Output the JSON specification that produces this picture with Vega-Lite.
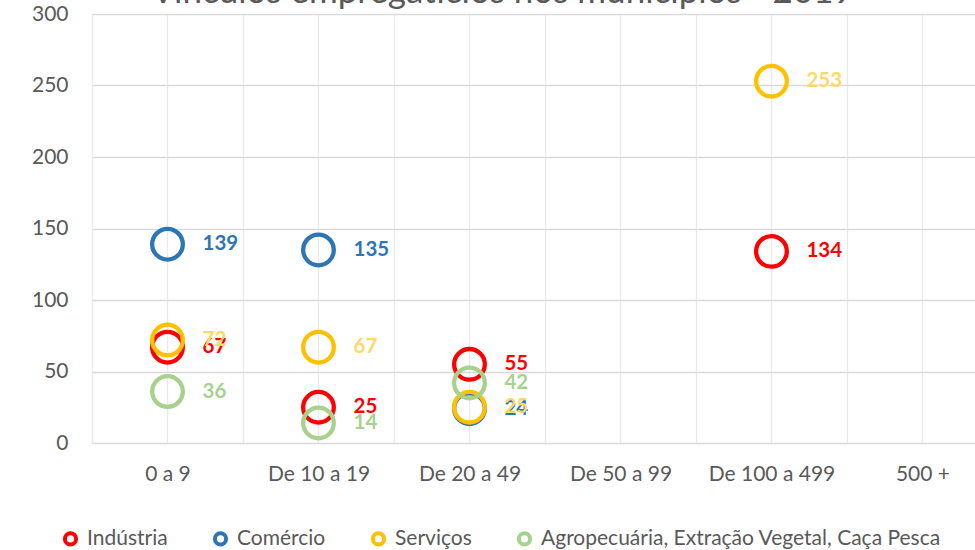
{
  "$schema": "https://vega.github.io/schema/vega-lite/v6.json",
  "autosize": {"type": "none"},
  "padding": {"left": 92, "top": 14, "right": 0, "bottom": 107},
  "width": 883,
  "height": 429,
  "background": "white",
  "config": {"font": "Lato", "view": {"stroke": null}},
  "title": {
    "text": "Vínculos empregatícios nos municípios - 2019",
    "fontSize": 35,
    "fontWeight": "normal",
    "color": "#595959",
    "baseline": "alphabetic",
    "offset": -35,
    "dx": -31
  },
  "data": {
    "values": [
      {"faixa": "0 a 9", "ordem": 1, "setor": "Indústria", "valor": 67},
      {"faixa": "De 10 a 19", "ordem": 2, "setor": "Indústria", "valor": 25},
      {"faixa": "De 20 a 49", "ordem": 3, "setor": "Indústria", "valor": 55},
      {"faixa": "De 100 a 499", "ordem": 5, "setor": "Indústria", "valor": 134},
      {"faixa": "0 a 9", "ordem": 1, "setor": "Comércio", "valor": 139},
      {"faixa": "De 10 a 19", "ordem": 2, "setor": "Comércio", "valor": 135},
      {"faixa": "De 20 a 49", "ordem": 3, "setor": "Comércio", "valor": 24},
      {"faixa": "0 a 9", "ordem": 1, "setor": "Serviços", "valor": 72},
      {"faixa": "De 10 a 19", "ordem": 2, "setor": "Serviços", "valor": 67},
      {"faixa": "De 20 a 49", "ordem": 3, "setor": "Serviços", "valor": 25},
      {"faixa": "De 100 a 499", "ordem": 5, "setor": "Serviços", "valor": 253},
      {"faixa": "0 a 9", "ordem": 1, "setor": "Agropecuária, Extração Vegetal, Caça Pesca", "valor": 36},
      {"faixa": "De 10 a 19", "ordem": 2, "setor": "Agropecuária, Extração Vegetal, Caça Pesca", "valor": 14},
      {"faixa": "De 20 a 49", "ordem": 3, "setor": "Agropecuária, Extração Vegetal, Caça Pesca", "valor": 42}
    ]
  },
  "encoding": {
    "x": {
      "field": "ordem",
      "type": "quantitative",
      "scale": {"domain": [0.5, 6.348], "nice": false, "zero": false},
      "axis": {
        "title": null,
        "values": [0.5, 1, 1.5, 2, 2.5, 3, 3.5, 4, 4.5, 5, 5.5, 6],
        "labelExpr": "datum.value % 1 == 0 ? ['', '0 a 9', 'De 10 a 19', 'De 20 a 49', 'De 50 a 99', 'De 100 a 499', '500 +'][datum.value] : ''",
        "grid": true,
        "gridColor": "#EBEBEB",
        "gridWidth": 1.3,
        "ticks": false,
        "domain": false,
        "labelFontSize": 21,
        "labelColor": "#595959",
        "labelPadding": 20,
        "labelFlush": false,
        "labelOverlap": false
      }
    },
    "y": {
      "field": "valor",
      "type": "quantitative",
      "scale": {"domain": [0, 300], "nice": false},
      "axis": {
        "title": null,
        "values": [0, 50, 100, 150, 200, 250, 300],
        "grid": true,
        "gridColor": "#D9D9D9",
        "gridWidth": 1.3,
        "ticks": false,
        "domain": false,
        "labelFontSize": 21,
        "labelColor": "#595959",
        "labelPadding": 24
      }
    }
  },
  "layer": [
    {
      "mark": {"type": "point", "filled": false, "size": 940, "strokeWidth": 4.3, "opacity": 1},
      "encoding": {
        "color": {
          "field": "setor",
          "type": "nominal",
          "scale": {
            "domain": ["Indústria", "Comércio", "Serviços", "Agropecuária, Extração Vegetal, Caça Pesca"],
            "range": ["#FF0000", "#2E75B6", "#FFC000", "#A9D18E"]
          },
          "legend": {
            "title": null,
            "orient": "none",
            "direction": "horizontal",
            "legendX": -32,
            "legendY": 514,
            "labelFontSize": 21,
            "labelColor": "#595959",
            "symbolStrokeWidth": 4,
            "symbolSize": 125,
            "labelOffset": 6,
            "columnPadding": 38,
            "labelLimit": 600
          }
        }
      }
    },
    {
      "mark": {"type": "text", "align": "left", "baseline": "middle", "dx": 35, "fontWeight": "bold", "fontSize": 20.5},
      "encoding": {
        "text": {"field": "valor", "type": "quantitative"},
        "color": {
          "field": "setor",
          "type": "nominal",
          "scale": {
            "domain": ["Indústria", "Comércio", "Serviços", "Agropecuária, Extração Vegetal, Caça Pesca"],
            "range": ["#FF0000", "#2E75B6", "#FFD966", "#A9D18E"]
          },
          "legend": null
        }
      }
    }
  ],
  "resolve": {"scale": {"color": "independent"}}
}
